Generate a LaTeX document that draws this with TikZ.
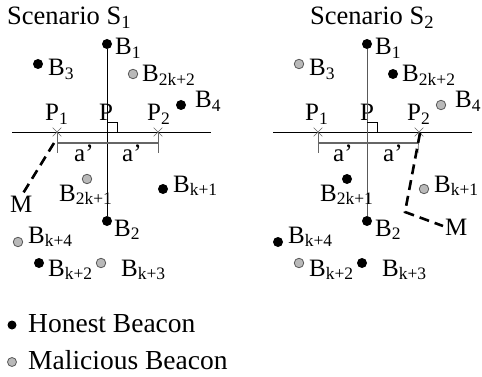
\documentclass[tikz,border=0pt]{standalone}
\usepackage{fontspec}
\setmainfont{Liberation Serif}
\usetikzlibrary{shapes.misc}
\tikzset{
  hb/.style={circle,fill=black,inner sep=0pt,minimum size=10pt},
  mb/.style={circle,fill=gray!55,draw=gray!70!black,line width=0.8pt,inner sep=0pt,minimum size=9.5pt},
  lab/.style={anchor=base west,inner sep=0pt,font=\fontsize{25}{29}\selectfont},
  ttl/.style={lab,font=\fontsize{26.5}{30}\selectfont},
  leg/.style={lab,font=\fontsize{27.5}{31}\selectfont},
  crs/.style={cross out,draw=gray!80!black,inner sep=0pt,minimum size=8pt,line width=0.6pt},
  axis/.style={line width=0.8pt},
  dim/.style={gray!80!black,line width=1.2pt},
  mpath/.style={line width=2.6pt,dash pattern=on 10pt off 6pt}
}
\begin{document}
\begin{tikzpicture}[x=1pt,y=-1pt]
\useasboundingbox (0,0) rectangle (482,377);
% ---------- Scenario 1 ----------
\node[ttl] (t1) at (7,25) {Scenario S\textsubscript{1}};
\node[hb] (a1) at (107,44) {};  \node[lab] (la1) at (115,55) {B\textsubscript{1}};
\node[hb] (a3) at (38,64) {};   \node[lab] (la3) at (48,76) {B\textsubscript{3}};
\node[mb] (a2k2) at (133,74) {}; \node[lab] (la2k2) at (142,82) {B\textsubscript{2k+2}};
\node[hb] (a4) at (181,105) {};  \node[lab] (la4) at (195,108) {B\textsubscript{4}};
\node[lab] (lp1) at (45,121) {P\textsubscript{1}};
\node[lab] (lp) at (99,121) {P};
\node[lab] (lp2) at (147,121) {P\textsubscript{2}};
\coordinate (h1l) at (12,132); \coordinate (h1r) at (211,132);
\draw[axis] (h1l) -- (h1r);
\node[crs] (x11) at (57,132) {};
\node[crs] (x12) at (158,132) {};
\node[hb] (a2) at (107,221) {};  \node[lab] (la2) at (114,236) {B\textsubscript{2}};
\draw[axis] (a1) -- (a2);
\coordinate (r1a) at (107,122); \coordinate (r1b) at (117,122); \coordinate (r1c) at (117,132);
\draw[line width=0.6pt] (r1a) -- (r1b) -- (r1c);
\coordinate (d1l) at (57,143); \coordinate (d1r) at (158,143);
\coordinate (d1lb) at (57,153); \coordinate (d1rb) at (158,153);
\draw[dim] (d1l) -- (d1r);
\draw[dim,line width=0.7pt] (x11.center) -- (d1lb);
\draw[dim,line width=0.7pt] (x12.center) -- (d1rb);
\node[lab] (aa1) at (74,161) {a’};
\node[lab] (aa2) at (122,161) {a’};
\coordinate (m1a) at (54,143); \coordinate (m1b) at (22,195);
\draw[mpath] (m1a) -- (m1b);
\node[lab] (lm1) at (10,212) {M};
\node[mb] (a2k1) at (87,179) {}; \node[lab] (la2k1) at (59,201) {B\textsubscript{2k+1}};
\node[hb] (ak1) at (163,189) {}; \node[lab] (lak1) at (173,192) {B\textsubscript{k+1}};
\node[mb] (ak4) at (18,242) {};  \node[lab] (lak4) at (28,243) {B\textsubscript{k+4}};
\node[hb] (ak2) at (39,263) {};  \node[lab] (lak2) at (48,276) {B\textsubscript{k+2}};
\node[mb] (ak3) at (101,263) {}; \node[lab] (lak3) at (121,276) {B\textsubscript{k+3}};
% ---------- Scenario 2 ----------
\node[ttl] (t2) at (310,25) {Scenario S\textsubscript{2}};
\node[hb] (b1) at (367,44) {};  \node[lab] (lb1) at (375,55) {B\textsubscript{1}};
\node[mb] (b3) at (299,64) {};  \node[lab] (lb3) at (309,76) {B\textsubscript{3}};
\node[hb] (b2k2) at (393,74) {}; \node[lab] (lb2k2) at (402,82) {B\textsubscript{2k+2}};
\node[mb] (b4) at (441,105) {}; \node[lab] (lb4) at (455,108) {B\textsubscript{4}};
\node[lab] (lq1) at (305,121) {P\textsubscript{1}};
\node[lab] (lq) at (360,121) {P};
\node[lab] (lq2) at (407,121) {P\textsubscript{2}};
\coordinate (h2l) at (273,132); \coordinate (h2r) at (472,132);
\draw[axis] (h2l) -- (h2r);
\node[crs] (x21) at (318,132) {};
\node[crs] (x22) at (419,132) {};
\node[hb] (b2) at (367,221) {}; \node[lab] (lb2) at (375,236) {B\textsubscript{2}};
\draw[axis,gray!70!black] (b1) -- (b2);
\coordinate (r2a) at (367,122); \coordinate (r2b) at (377,122); \coordinate (r2c) at (377,132);
\draw[line width=0.6pt] (r2a) -- (r2b) -- (r2c);
\coordinate (d2l) at (318,143); \coordinate (d2r) at (418,143);
\coordinate (d2lb) at (318,153); \coordinate (d2rb) at (418,153);
\draw[dim] (d2l) -- (d2r);
\draw[dim,line width=0.7pt] (x21.center) -- (d2lb);
\draw[dim,line width=0.7pt] (x22.center) -- (d2rb);
\node[lab] (ab1) at (333,161) {a’};
\node[lab] (ab2) at (383,161) {a’};
\coordinate (m2a) at (420,133); \coordinate (m2b) at (405,212); \coordinate (m2c) at (443,226);
\draw[mpath] (m2a) -- (m2b) -- (m2c);
\node[lab] (lm2) at (445,235) {M};
\node[hb] (b2k1) at (347,179) {}; \node[lab] (lb2k1) at (320,201) {B\textsubscript{2k+1}};
\node[mb] (bk1) at (424,189) {}; \node[lab] (lbk1) at (434,192) {B\textsubscript{k+1}};
\node[hb] (bk4) at (278,242) {}; \node[lab] (lbk4) at (288,243) {B\textsubscript{k+4}};
\node[mb] (bk2) at (299,263) {}; \node[lab] (lbk2) at (309,276) {B\textsubscript{k+2}};
\node[hb] (bk3) at (362,263) {}; \node[lab] (lbk3) at (382,276) {B\textsubscript{k+3}};
% ---------- Legend ----------
\node[hb,minimum size=9pt] (lg1) at (12,325) {}; \node[leg] (lgt1) at (28,332) {Honest Beacon};
\node[mb,minimum size=9pt] (lg2) at (12,362) {}; \node[leg] (lgt2) at (28,369) {Malicious Beacon};
\end{tikzpicture}
\end{document}
